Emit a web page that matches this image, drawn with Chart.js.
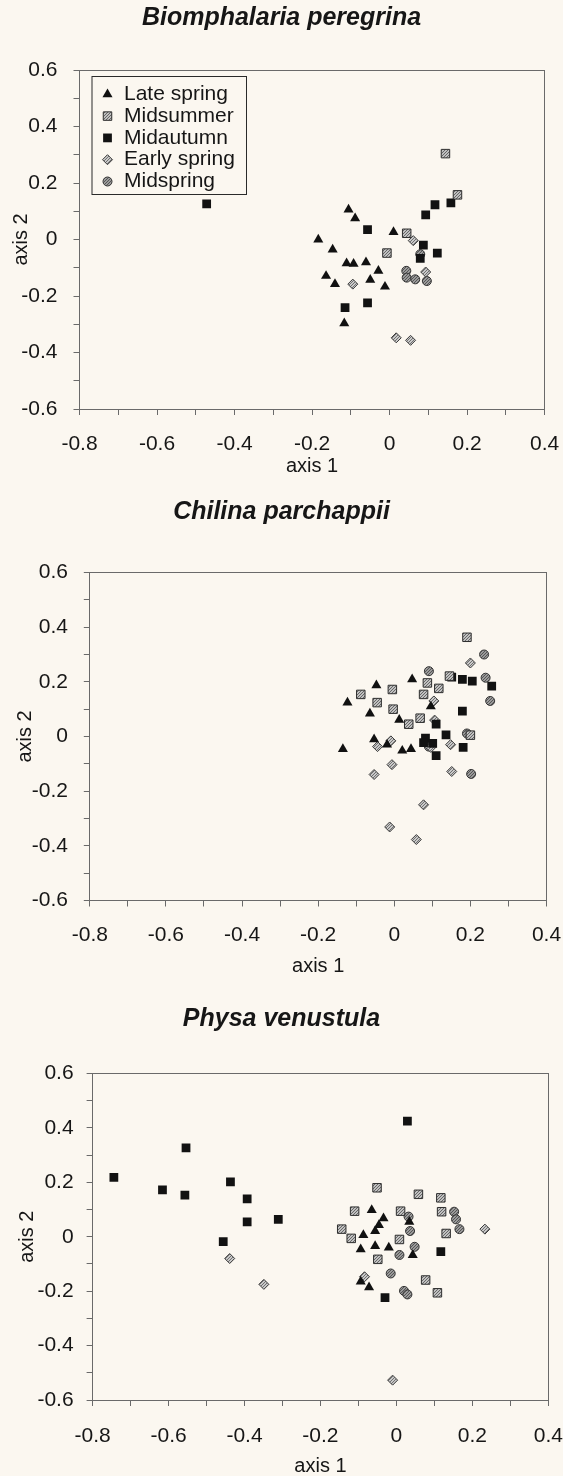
<!DOCTYPE html>
<html>
<head>
<meta charset="utf-8">
<title>Seasonal ordination – three snail species</title>
<script src="https://cdn.jsdelivr.net/npm/chart.js@4.4.1/dist/chart.umd.min.js"></script>
<style>
  html, body { margin: 0; padding: 0; background: #fbf7f0; overflow: hidden; }
  body { width: 563px; height: 1476px; position: relative; }
  canvas { position: absolute; left: 0; display: block; }
</style>
</head>
<body>
<canvas id="bio"  width="563" height="490" style="top:0"></canvas>
<canvas id="chil" width="563" height="495" style="top:490px"></canvas>
<canvas id="phys" width="563" height="495" style="top:985px"></canvas>
<script>
// ── Data (axis 1, axis 2) ─────────────────────────────────────────────────
const SEASONS = ['Late spring', 'Midsummer', 'Midautumn', 'Early spring', 'Midspring'];
const X_TICKS = [-0.8, -0.6, -0.4, -0.2, 0, 0.2, 0.4];
const Y_TICKS = [-0.6, -0.4, -0.2, 0, 0.2, 0.4, 0.6];

// Biomphalaria peregrina
const BIO_LATE_SPRING  = [[-0.106,0.106],[-0.089,0.075],[-0.184,0.000],[-0.147,-0.036],[-0.111,-0.084],[-0.093,-0.086],[-0.061,-0.081],[-0.029,-0.111],[-0.164,-0.129],[-0.141,-0.158],[-0.050,-0.143],[-0.012,-0.167],[0.010,0.026],[-0.117,-0.297]];
const BIO_MIDSUMMER    = [[0.144,0.304],[0.175,0.158],[0.044,0.022],[-0.007,-0.048]];
const BIO_MIDAUTUMN    = [[-0.472,0.126],[-0.057,0.035],[0.093,0.087],[0.117,0.123],[0.158,0.130],[0.087,-0.020],[0.123,-0.048],[0.079,-0.067],[-0.057,-0.224],[-0.115,-0.241]];
const BIO_EARLY_SPRING = [[0.061,-0.004],[-0.095,-0.158],[0.093,-0.115],[0.017,-0.348],[0.054,-0.357]];
const BIO_MIDSPRING    = [[0.043,-0.111],[0.044,-0.135],[0.066,-0.141],[0.096,-0.147],[0.079,-0.052]];

// Chilina parchappii
const CHI_LATE_SPRING  = [[-0.123,0.124],[-0.047,0.187],[0.047,0.209],[-0.064,0.084],[0.013,0.061],[0.096,0.110],[-0.135,-0.046],[-0.053,-0.010],[-0.019,-0.030],[0.021,-0.052],[0.044,-0.046]];
const CHI_MIDSUMMER    = [[-0.088,0.154],[-0.045,0.124],[-0.005,0.172],[-0.003,0.100],[0.038,0.045],[0.068,0.067],[0.087,0.196],[0.077,0.154],[0.117,0.176],[0.145,0.221],[0.200,0.005],[0.191,0.363]];
const CHI_MIDAUTUMN    = [[0.151,0.217],[0.179,0.209],[0.205,0.203],[0.256,0.184],[0.179,0.093],[0.110,0.045],[0.136,0.006],[0.082,-0.006],[0.077,-0.022],[0.101,-0.025],[0.110,-0.070],[0.181,-0.040]];
const CHI_EARLY_SPRING = [[0.200,0.269],[0.104,0.130],[-0.009,-0.016],[-0.044,-0.037],[0.106,0.060],[0.096,-0.040],[0.148,-0.030],[-0.006,-0.103],[-0.053,-0.139],[0.151,-0.128],[0.077,-0.250],[-0.012,-0.331],[0.058,-0.377]];
const CHI_MIDSPRING    = [[0.091,0.239],[0.236,0.300],[0.240,0.215],[0.252,0.130],[0.191,0.011],[0.202,-0.137],[0.091,-0.037]];

// Physa venustula
const PHY_LATE_SPRING  = [[-0.065,0.098],[-0.034,0.068],[-0.046,0.043],[-0.056,0.021],[-0.087,0.006],[-0.094,-0.046],[-0.056,-0.034],[-0.020,-0.040],[0.034,0.055],[0.043,-0.067],[-0.094,-0.165],[-0.072,-0.186]];
const PHY_MIDSUMMER    = [[-0.051,0.180],[0.058,0.156],[0.117,0.143],[-0.110,0.094],[0.011,0.094],[0.119,0.092],[-0.144,0.028],[-0.119,-0.006],[0.008,-0.010],[0.131,0.012],[-0.049,-0.083],[0.077,-0.159],[0.108,-0.206]];
const PHY_MIDAUTUMN    = [[-0.554,0.327],[0.029,0.425],[-0.744,0.218],[-0.616,0.172],[-0.557,0.153],[-0.437,0.202],[-0.393,0.139],[-0.393,0.055],[-0.311,0.064],[-0.456,-0.018],[0.117,-0.055],[-0.030,-0.224]];
const PHY_EARLY_SPRING = [[-0.439,-0.080],[-0.349,-0.175],[0.233,0.028],[-0.084,-0.147],[-0.010,-0.527]];
const PHY_MIDSPRING    = [[0.032,0.074],[0.036,0.021],[0.048,-0.037],[0.008,-0.067],[-0.015,-0.135],[0.020,-0.199],[0.029,-0.212],[0.152,0.092],[0.157,0.064],[0.166,0.028]];

// ── Look ──────────────────────────────────────────────────────────────────
const FONT = '"Liberation Sans", Arial, Helvetica, sans-serif';
const INK  = '#161616';
const AXIS = '#6a6a6a';

function speckle(base, dark) {
  const c = document.createElement('canvas');
  c.width = 3; c.height = 3;
  const g = c.getContext('2d');
  g.fillStyle = base; g.fillRect(0, 0, 3, 3);
  g.fillStyle = dark;
  g.fillRect(0, 0, 1, 1); g.fillRect(2, 1, 1, 1); g.fillRect(1, 2, 1, 1);
  return g.createPattern(c, 'repeat');
}

const MARKERS = [
  { pointStyle: 'triangle', pointRadius: 5.8, pointBackgroundColor: '#111', pointBorderColor: '#111', pointBorderWidth: 0 },
  { pointStyle: 'rect',     pointRadius: 6.0, pointBackgroundColor: speckle('#c0c0c0', '#666'), pointBorderColor: '#2e2e2e', pointBorderWidth: 1 },
  { pointStyle: 'rect',     pointRadius: 6.2, pointBackgroundColor: '#121212', pointBorderColor: '#121212', pointBorderWidth: 0 },
  { pointStyle: 'rectRot',  pointRadius: 5.0, pointBackgroundColor: speckle('#c9c9c9', '#707070'), pointBorderColor: '#3a3a3a', pointBorderWidth: 1 },
  { pointStyle: 'circle',   pointRadius: 4.5, pointBackgroundColor: speckle('#9a9a9a', '#555'), pointBorderColor: '#333', pointBorderWidth: 1 },
];

// ── Legend with a frame, drawn inside the first plot ──────────────────────
const boxLegend = {
  id: 'boxLegend',
  afterDatasetsDraw(chart, args, opts) {
    if (!opts.box) return;
    const b = opts.box, ctx = chart.ctx;
    ctx.save();
    ctx.strokeStyle = '#2a2a2a'; ctx.lineWidth = 1;
    ctx.strokeRect(b.x + 0.5, b.y + 0.5, b.w, b.h);
    chart.data.datasets.forEach((ds, i) => {
      const y = b.y + b.first + i * b.step;
      ctx.fillStyle = ds.pointBackgroundColor;
      ctx.strokeStyle = ds.pointBorderColor;
      ctx.lineWidth = ds.pointBorderWidth;
      const pt = { pointStyle: ds.pointStyle, radius: ds.pointRadius, borderWidth: ds.pointBorderWidth, rotation: 0 };
      if (Chart.helpers && Chart.helpers.drawPoint) Chart.helpers.drawPoint(ctx, pt, b.x + b.mark, y);
      ctx.fillStyle = INK;
      ctx.font = `21px ${FONT}`;
      ctx.textBaseline = 'middle';
      ctx.textAlign = 'left';
      ctx.fillText(ds.label, b.x + b.text, y);
    });
    ctx.restore();
  }
};

function makePanel(id, title, series, ticksX, ticksY, L) {
  // only the listed values get a label; the 0.1 steps in between keep a bare tick mark
  const fmt = list => v => {
    const t = list.find(t => Math.abs(t - v) < 1e-6);
    return t === undefined ? '' : (t === 0 ? '0' : t.toFixed(1));
  };
  const titleFont = { family: FONT, size: 20 };
  const TITLE_LH  = 25 * 1.2;
  const W = 563;

  return new Chart(document.getElementById(id), {
    type: 'scatter',
    data: {
      datasets: SEASONS.map((label, i) => ({
        label,
        data: series[i].map(([x, y]) => ({ x, y })),
        ...MARKERS[i]
      }))
    },
    options: {
      responsive: false, animation: false, events: [],
      layout: { padding: 0 },
      plugins: {
        legend: { display: false },
        tooltip: { enabled: false },
        title: {
          display: true, text: title, color: INK,
          font: { family: FONT, size: 25, weight: 'bold', style: 'italic', lineHeight: 1.2 },
          padding: { top: L.titleTop, bottom: 0 }
        },
        boxLegend: { box: L.legend || null }
      },
      scales: {
        x: {
          type: 'linear', position: 'bottom', min: -0.8, max: 0.4,
          afterFit: s => { s.height = L.h - L.bottom; },
          // the label drop comes from the line height, so the side padding stays small
          ticks: { stepSize: 0.1, autoSkip: false, maxRotation: 0, minRotation: 0, padding: 0,
                   color: INK, font: { family: FONT, size: 21, lineHeight: L.xLabelLH + 'px' },
                   callback: fmt(ticksX) },
          grid: { drawOnChartArea: false, drawTicks: true, tickLength: 6, color: AXIS },
          border: { display: true, color: AXIS },
          title: { display: true, text: 'axis 1', color: INK, font: titleFont,
                   padding: { top: 0, bottom: L.xTitleBottom } }
        },
        y: {
          type: 'linear', position: 'left', min: -0.6, max: 0.6,
          afterFit: s => { s.width = L.left; },
          ticks: { stepSize: 0.1, autoSkip: false, padding: L.yPad, color: INK,
                   font: { family: FONT, size: 21 }, callback: fmt(ticksY) },
          grid: { drawOnChartArea: false, drawTicks: true, tickLength: 6, color: AXIS },
          border: { display: true, color: AXIS },
          title: { display: true, text: 'axis 2', color: INK, font: titleFont,
                   padding: { top: L.yTitleLeft, bottom: 0 } }
        },
        x2: {
          type: 'linear', position: 'top', min: 0, max: 1,
          afterFit: s => { s.height = L.top - L.titleTop - TITLE_LH; },
          ticks: { display: false },
          grid: { drawOnChartArea: false, drawTicks: false },
          border: { display: true, color: AXIS }
        },
        y2: {
          type: 'linear', position: 'right', min: 0, max: 1,
          afterFit: s => { s.width = W - L.right; },
          ticks: { display: false },
          grid: { drawOnChartArea: false, drawTicks: false },
          border: { display: true, color: AXIS }
        }
      }
    },
    plugins: [boxLegend]
  });
}

makePanel('bio', 'Biomphalaria peregrina',
  [BIO_LATE_SPRING, BIO_MIDSUMMER, BIO_MIDAUTUMN, BIO_EARLY_SPRING, BIO_MIDSPRING], X_TICKS, Y_TICKS,
  { h: 490, top: 70, bottom: 409, left: 79.5, right: 544.7, titleTop: 3,
    xLabelLH: 58, xTitleBottom: 12, yPad: 16, yTitleLeft: 9.5,
    legend: { x: 91.5, y: 76, w: 154.5, h: 118, mark: 16, text: 32.5, first: 18.3, step: 21.8 } });

makePanel('chil', 'Chilina parchappii',
  [CHI_LATE_SPRING, CHI_MIDSUMMER, CHI_MIDAUTUMN, CHI_EARLY_SPRING, CHI_MIDSPRING], X_TICKS, Y_TICKS,
  { h: 495, top: 82.5, bottom: 410.5, left: 89.8, right: 546.5, titleTop: 7.5,
    xLabelLH: 57, xTitleBottom: 6.3, yPad: 15.8, yTitleLeft: 13 });

makePanel('phys', 'Physa venustula',
  [PHY_LATE_SPRING, PHY_MIDSUMMER, PHY_MIDAUTUMN, PHY_EARLY_SPRING, PHY_MIDSPRING], X_TICKS, Y_TICKS,
  { h: 495, top: 88.5, bottom: 415, left: 92.6, right: 548.3, titleTop: 19,
    xLabelLH: 60, xTitleBottom: 1.3, yPad: 13, yTitleLeft: 15 });
</script>
</body>
</html>
